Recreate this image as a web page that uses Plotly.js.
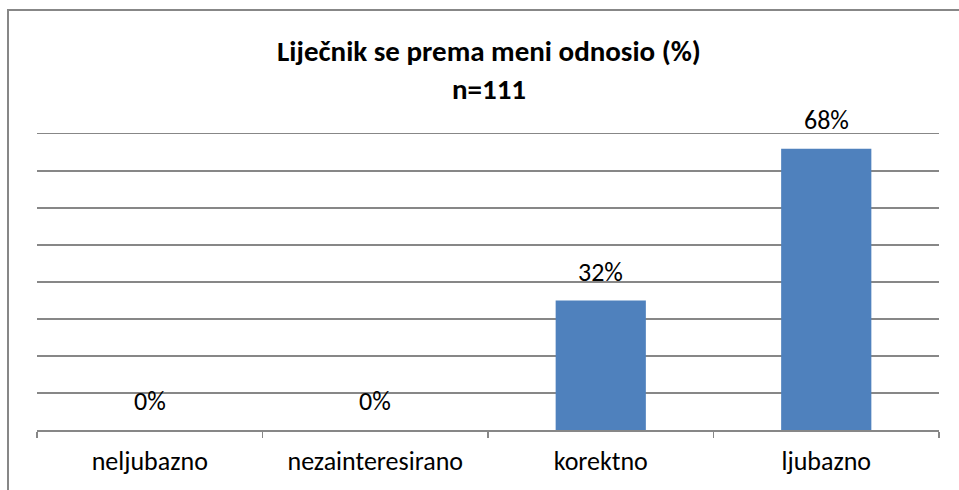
<!DOCTYPE html>
<html>
<head>
<meta charset="utf-8">
<script src="https://cdn.plot.ly/plotly-3.0.1.min.js"></script>
<style>
  html, body { margin: 0; padding: 0; background: #ffffff; }
  #wrap { position: relative; width: 959px; height: 490px; overflow: hidden; }
  #frame { position: absolute; left: 7px; top: 9px; width: 980px; height: 500px;
           border: 2px solid #878787; box-sizing: border-box; }
  #chart { position: absolute; left: 0; top: 0; width: 959px; height: 490px; }
</style>
</head>
<body>
<div id="wrap">
  <div id="frame"></div>
  <div id="chart"></div>
</div>
<script>
// Data
const categories = ['neljubazno', 'nezainteresirano', 'korektno', 'ljubazno'];
const counts = [0, 0, 35, 76];          // respondents (n = 111)
const percentLabels = ['0%', '0%', '32%', '68%'];
const chartTitle = 'Liječnik se prema meni odnosio (%)';
const sampleLabel = 'n=111';

const FONT = 'Carlito, Lato, "Liberation Sans", sans-serif';
const GRID = '#878787';

const trace = {
  type: 'bar',
  x: categories,
  y: counts,
  marker: { color: '#4F81BD' },
  hoverinfo: 'skip'
};

const annotations = categories.map((c, i) => ({
  x: c, y: counts[i], xref: 'x', yref: 'y',
  text: percentLabels[i], showarrow: false,
  yanchor: 'bottom', yshift: 11,
  font: { family: FONT, size: 26, color: '#000000' }
}));

const layout = {
  width: 959, height: 490,
  margin: { l: 37, r: 20, t: 134, b: 60 },
  paper_bgcolor: 'rgba(0,0,0,0)', plot_bgcolor: 'rgba(0,0,0,0)',
  bargap: 0.6,
  showlegend: false,
  title: {
    text: '<b>' + chartTitle + '</b><br><b>' + sampleLabel + '</b>',
    font: { family: FONT, size: 29, color: '#000000' },
    x: 489 / 959, xanchor: 'center', xref: 'container',
    y: 1 - 61 / 490, yanchor: 'top', yref: 'container'
  },
  xaxis: {
    type: 'category',
    showline: true, mirror: true, linecolor: GRID, linewidth: 1.5,
    ticks: 'outside', tickson: 'boundaries', ticklen: 6, tickcolor: GRID, tickwidth: 1.5,
    showgrid: false,
    tickfont: { family: FONT, size: 26, color: '#000000' },
    ticklabelstandoff: 7
  },
  yaxis: {
    range: [0, 80], dtick: 10, tick0: 0,
    showgrid: true, gridcolor: GRID, gridwidth: 1.5,
    showticklabels: false, zeroline: false, showline: false, ticks: ''
  },
  annotations: annotations
};

Plotly.newPlot('chart', [trace], layout, { staticPlot: true, displayModeBar: false });
</script>
</body>
</html>
